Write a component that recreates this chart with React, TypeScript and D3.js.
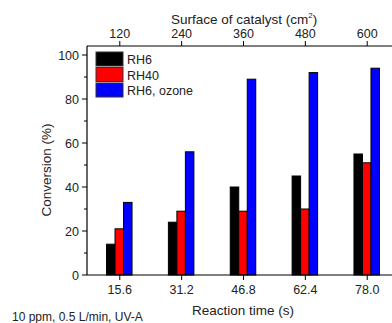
import React, { useEffect, useRef } from 'react';
import * as d3 from 'd3';

const TIMES = ['15.6', '31.2', '46.8', '62.4', '78.0'];
const SURFACES = ['120', '240', '360', '480', '600'];
const SERIES = ['RH6', 'RH40', 'RH6, ozone'];
const COLORS = ['#000000', '#ff0000', '#0000ff'];
const RH6 = [14, 24, 40, 45, 55];
const RH40 = [21, 29, 29, 30, 51];
const RH6_OZONE = [33, 56, 89, 92, 94];
const Y_TICKS = [0, 20, 40, 60, 80, 100];

const App: React.FC = () => {
    const svgRef = useRef<SVGSVGElement | null>(null);

    useEffect(() => {
        if (!svgRef.current) return;
        const svg = d3.select(svgRef.current);
        svg.selectAll('*').remove();

        const left = 87, right = 400, top = 46, bottom = 275;
        const font = 'Liberation Sans, Arial, sans-serif';

        // index-based x, bars centered on ticks
        const x = d3.scaleLinear().domain([-0.53, 4.53]).range([left, right]);
        const y = d3.scaleLinear().domain([0, 100]).range([bottom, 55]);
        const barW = 8.5;

        const values = [RH6, RH40, RH6_OZONE];
        const g = svg.append('g');

        values.forEach((vals, si) => {
            g.selectAll(`rect.s${si}`)
                .data(vals)
                .join('rect')
                .attr('x', (_, i) => x(i) + (si - 1) * barW - barW / 2 - 0.5)
                .attr('y', d => y(d))
                .attr('width', barW)
                .attr('height', d => bottom - y(d))
                .attr('fill', COLORS[si])
                .attr('stroke', '#000')
                .attr('stroke-width', 1);
        });

        // frame
        g.append('line').attr('x1', left).attr('x2', left).attr('y1', top).attr('y2', bottom)
            .attr('stroke', '#000').attr('stroke-width', 1.2);
        g.append('line').attr('x1', left).attr('x2', right).attr('y1', bottom).attr('y2', bottom)
            .attr('stroke', '#000').attr('stroke-width', 1.2);
        g.append('line').attr('x1', left).attr('x2', right).attr('y1', top).attr('y2', top)
            .attr('stroke', '#000').attr('stroke-width', 1.2);

        // y ticks
        const minor = d3.range(10, 100, 20);
        g.selectAll('line.ymaj').data(Y_TICKS).join('line')
            .attr('x1', left - 5).attr('x2', left).attr('y1', d => y(d)).attr('y2', d => y(d))
            .attr('stroke', '#000').attr('stroke-width', 1);
        g.selectAll('line.ymin').data(minor).join('line')
            .attr('x1', left - 3).attr('x2', left).attr('y1', d => y(d)).attr('y2', d => y(d))
            .attr('stroke', '#000').attr('stroke-width', 1);
        g.selectAll('text.ylab').data(Y_TICKS).join('text')
            .attr('x', left - 8).attr('y', d => y(d) + 4.5)
            .attr('text-anchor', 'end').attr('font-family', font).attr('font-size', 12.5)
            .attr('fill', '#222').text(d => d);

        // bottom ticks
        g.selectAll('line.xt').data(TIMES).join('line')
            .attr('x1', (_, i) => x(i)).attr('x2', (_, i) => x(i))
            .attr('y1', bottom).attr('y2', bottom + 5).attr('stroke', '#000');
        g.selectAll('text.xl').data(TIMES).join('text')
            .attr('x', (_, i) => x(i)).attr('y', bottom + 19)
            .attr('text-anchor', 'middle').attr('font-family', font).attr('font-size', 12.5)
            .attr('fill', '#222').text(d => d);

        // top ticks
        g.selectAll('line.tt').data(SURFACES).join('line')
            .attr('x1', (_, i) => x(i)).attr('x2', (_, i) => x(i))
            .attr('y1', top).attr('y2', top - 5).attr('stroke', '#000');
        g.selectAll('text.tl').data(SURFACES).join('text')
            .attr('x', (_, i) => x(i)).attr('y', top - 8)
            .attr('text-anchor', 'middle').attr('font-family', font).attr('font-size', 12.5)
            .attr('fill', '#222').text(d => d);

        // axis titles
        const tt = g.append('text').attr('x', 244).attr('y', 24)
            .attr('text-anchor', 'middle').attr('font-family', font).attr('font-size', 13.5).attr('fill', '#222');
        tt.append('tspan').text('Surface of catalyst (cm');
        tt.append('tspan').attr('font-size', 8).attr('dy', -6).text('2');
        tt.append('tspan').attr('dy', 6).text(')');

        g.append('text').attr('x', 243).attr('y', 315)
            .attr('text-anchor', 'middle').attr('font-family', font).attr('font-size', 13.5)
            .attr('fill', '#222').text('Reaction time (s)');

        g.append('text').attr('transform', `translate(51, 170) rotate(-90)`)
            .attr('text-anchor', 'middle').attr('font-family', font).attr('font-size', 13.5)
            .attr('fill', '#222').text('Conversion (%)');

        g.append('text').attr('x', 12).attr('y', 321)
            .attr('font-family', font).attr('font-size', 12)
            .attr('fill', '#222').text('10 ppm, 0.5 L/min, UV-A');

        // legend
        const lg = g.append('g');
        SERIES.forEach((s, i) => {
            lg.append('rect').attr('x', 96).attr('y', 52 + i * 15.5).attr('width', 27).attr('height', 14)
                .attr('fill', COLORS[i]).attr('stroke', '#333').attr('stroke-width', 1);
            lg.append('text').attr('x', 127).attr('y', 64 + i * 15.5)
                .attr('font-family', font).attr('font-size', 12.5).attr('fill', '#222').text(s);
        });
    }, []);

    return (
        <svg ref={svgRef} width={392} height={323}
            style={{ position: 'absolute', left: 0, top: 0, background: '#fff' }} />
    );
};

export default App;
